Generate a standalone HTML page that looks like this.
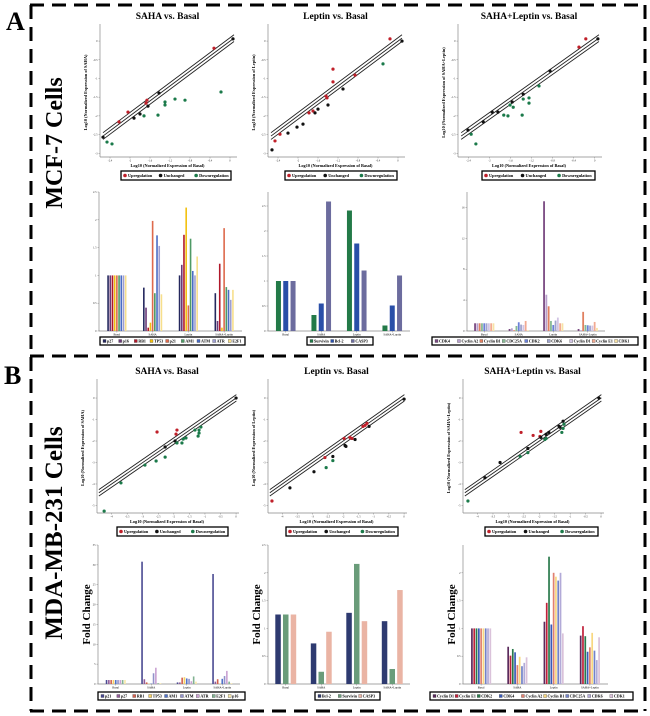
<!DOCTYPE html>
<html><head><meta charset="utf-8">
<style>
html,body{margin:0;padding:0;background:#fff;}
svg{display:block;font-family:"Liberation Serif",serif;}
</style></head>
<body>
<svg id="fig" width="650" height="716" viewBox="0 0 650 716" xmlns="http://www.w3.org/2000/svg">
<g stroke="#000" stroke-width="3" stroke-dasharray="14 8" fill="none">
<line x1="30" y1="5" x2="646" y2="5"/>
<line x1="30" y1="356" x2="646" y2="356"/>
<line x1="30" y1="711" x2="646" y2="711"/>
<line x1="31" y1="5" x2="31" y2="711"/>
<line x1="645" y1="5" x2="645" y2="711"/>
</g>
<text x="6" y="30" font-size="26" font-weight="bold">A</text>
<text x="4" y="384" font-size="26" font-weight="bold">B</text>
<text transform="translate(62,143) rotate(-90)" text-anchor="middle" font-size="24" font-weight="bold">MCF-7 Cells</text>
<text transform="translate(62,533) rotate(-90)" text-anchor="middle" font-size="25" font-weight="bold">MDA-MB-231 Cells</text>
</svg>
<script>
// ---------- scatter data ----------
const a1Up=[[-0.32,-0.19],[-1.66,-1.58],[-1.68,-1.66],[-2.04,-1.90],[-2.22,-2.16]];
const a1Un=[[0.06,0.06],[-1.42,-1.39],[-1.64,-1.74],[-1.80,-1.95],[-1.92,-2.06],[-2.54,-2.57]];
const a1Down=[[-0.18,-1.36],[-0.90,-1.58],[-1.10,-1.55],[-1.30,-1.63],[-1.30,-1.71],[-1.44,-1.98],[-1.72,-2.00],[-2.46,-2.70],[-2.36,-2.75]];
const a2Up=[[-0.16,0.06],[-1.30,-0.75],[-1.30,-1.09],[-0.86,-0.91],[-1.44,-1.47],[-1.42,-1.52],[-1.70,-1.87],[-1.78,-1.92],[-2.36,-2.49],[-2.46,-2.67]];
const a2Un=[[0.08,0.0],[-1.10,-1.28],[-1.40,-1.71],[-1.60,-1.82],[-1.66,-1.92],[-1.90,-2.22],[-2.02,-2.30],[-2.20,-2.46],[-2.52,-2.91]];
const a2Down=[[-0.30,-0.61]];
const a3Up=[[-0.17,0.06],[-0.30,-0.16]];
const a3Un=[[0.06,0.06],[-0.85,-0.80],[-1.36,-1.42],[-1.57,-1.63],[-1.84,-1.90],[-1.95,-1.90],[-2.12,-2.16],[-2.41,-2.38]];
const a3Down=[[-1.06,-1.20],[-1.25,-1.52],[-1.25,-1.66],[-1.36,-1.55],[-1.55,-1.77],[-1.61,-1.71],[-1.38,-1.98],[-1.65,-2.00],[-1.73,-1.98],[-2.35,-2.49],[-2.26,-2.75]];
const b1Up=[[-2.54,-1.58],[-1.90,-1.49],[-1.93,-1.68]];
const b1Un=[[0,0],[-1.96,-2.0],[-2.28,-2.28]];
const b1Down=[[-4.24,-5.26],[-3.70,-3.95],[-2.93,-3.12],[-2.57,-2.93],[-2.28,-2.75],[-1.90,-2.09],[-1.74,-2.09],[-1.70,-1.91],[-1.61,-1.86],[-1.32,-1.49],[-1.19,-1.49],[-1.19,-1.63],[-1.22,-1.77],[-1.13,-1.35]];
const b2Up=[[-4.34,-4.79],[-2.60,-2.77],[-1.97,-1.88],[-1.78,-1.83],[-1.71,-1.88],[-1.35,-1.32],[-1.28,-1.27],[-1.22,-1.18]];
const b2Un=[[0.0,-0.05],[-1.15,-1.32],[-1.61,-1.93],[-1.94,-2.21],[-1.91,-2.25],[-2.34,-2.72],[-2.96,-3.43],[-3.75,-4.18]];
const b2Down=[[-2.56,-3.24],[-2.34,-2.91]];
const b3Up=[[-2.59,-1.60],[-2.20,-1.74],[-1.95,-1.55],[-1.98,-1.79]];
const b3Un=[[-0.07,0.0],[-1.23,-1.08],[-1.36,-1.32],[-1.33,-1.36],[-1.69,-1.60],[-1.78,-1.69],[-1.95,-1.83],[-2.37,-2.35],[-3.27,-3.0],[-3.76,-3.71]];
const b3Down=[[-4.31,-4.79],[-2.62,-2.72],[-2.37,-2.54],[-1.78,-1.88],[-1.20,-1.22],[-1.23,-1.41],[-1.27,-1.60],[-1.82,-1.93]];
const aXTicks=[-2.4,-2.0,-1.6,-1.2,-0.8,-0.4,0];
const aYTicks=[-3.0,-2.5,-2.0,-1.5,-1.0,-0.5,0];
const bXTicks=[-4.0,-3.5,-3.0,-2.5,-2.0,-1.5,-1.0,-0.5,0];
const bYTicks=[-5.0,-4.0,-3.0,-2.0,-1.0,0];

// ---------- bar data ----------
const barCats=["Basal","SAHA","Leptin","SAHA+Leptin"];
const a1Names=["p27","p16","RB1","TP53","p21","AM1","ATM","ATR","E2F1"];
const a1Colors=["#25285e","#6b3a78","#b0182a","#f2c00f","#de6a4c","#4f9a66","#4a6cc4","#9e9ed0","#f7df8c"];
const a1Basal=[1,1,1,1,1,1,1,1,1];
const a1Saha=[0.78,0.42,0.06,0.15,1.98,0.68,1.72,1.53,0.66];
const a1Leptin=[1.0,1.19,1.73,2.22,0.46,1.66,1.08,1.0,1.34];
const a1Combo=[0.68,0.18,1.21,0.06,1.85,0.79,0.74,0.56,0.74];
const a1Ticks=[0,0.5,1.0,1.5,2.0,2.5];
const a2Names=["Survivin","Bcl-2","CASP3"];
const a2Colors=["#237a48","#2a4fa8","#6c6c9e"];
const a2Basal=[1,1,1];
const a2Saha=[0.32,0.55,2.59];
const a2Leptin=[2.41,1.75,1.21];
const a2Combo=[0.11,0.51,1.11];
const a2Ticks=[0,0.5,1.0,1.5,2.0,2.5];
const a3Names=["CDK4","Cyclin A2","Cyclin B1","CDC25A","CDK2","CDK6","Cyclin D1","Cyclin E1","CDK1"];
const a3Colors=["#7a4a82","#b8a0cc","#e08060","#86ba94","#6a80d8","#a0a4cc","#d2c4e4","#f2aa92","#f8e2a4"];
const a3Basal=[1,1,1,1,1,1,1,1,1];
const a3Saha=[0.26,0.35,0.1,0.65,1.13,0.83,0.78,1.3,0.1];
const a3Leptin=[16.8,4.7,3.2,1.3,0.78,1.35,1.74,1.0,1.0];
const a3Combo=[0.26,0.1,2.48,0.78,0.74,0.7,0.7,1.17,0.4];
const a3Ticks=[0,4,8,12,16];
const b1Names=["p21","p27","RB1","TP53","AM1","ATM","ATR","E2F1","p16"];
const b1Colors=["#4a4a92","#935c9a","#d2604e","#f6d062","#5072c8","#9292ca","#caa2d2","#82b292","#f8e8aa"];
const b1Basal=[1,1,1,1,1,1,1,1,1];
const b1Saha=[30.8,1.2,0.4,0.1,0.1,2.7,4.1,0.2,0.2];
const b1Leptin=[0.4,0.4,1.6,1.7,1.4,1.3,0.7,1.9,0.6];
const b1Combo=[27.7,0.6,1.2,0.1,1.3,2.0,3.3,0.6,0.2];
const b1Ticks=[0,5,10,15,20,25,30,35];
const b2Names=["Bcl-2","Survivin","CASP3"];
const b2Colors=["#2e3a70","#6a9c7a","#eab4a4"];
const b2Basal=[1.25,1.25,1.25];
const b2Saha=[0.73,0.22,0.94];
const b2Leptin=[1.28,2.16,1.13];
const b2Combo=[1.13,0.27,1.69];
const b2Ticks=[0,0.5,1.0,1.5,2.0,2.5];
const b3Names=["Cyclin D1","Cyclin E1","CDK2","CDK4","Cyclin A2","Cyclin B1","CDC25A","CDK6","CDK1"];
const b3Colors=["#5a2a5c","#c0203a","#2a7a4c","#3a5ab8","#e08070","#f8d880","#7282c8","#b2aad8","#dac2da"];
const b3Basal=[1,1,1,1,1,1,1,1,1];
const b3Saha=[0.67,0.51,0.63,0.57,0.34,0.49,0.32,0.38,0.48];
const b3Leptin=[1.12,1.46,2.29,1.07,2.0,1.93,1.86,2.0,0.91];
const b3Combo=[0.87,1.04,0.86,0.58,0.66,0.92,0.60,0.43,0.84];
const b3Ticks=[0,0.5,1.0,1.5,2.0];

const NS="http://www.w3.org/2000/svg";
const svg=document.getElementById('fig');
function mk(tag,attrs,parent){const e=document.createElementNS(NS,tag);for(const k in attrs)e.setAttribute(k,attrs[k]);(parent||svg).appendChild(e);return e;}
function txt(parent,x,y,s,size,extra){const t=mk('text',Object.assign({x:x,y:y,'font-size':size},extra||{}),parent);t.textContent=s;return t;}

function scatter(o){
  const g=mk('g',{});
  
  
  const sx=v=>o.x0+(v-o.xd[0])/(o.xd[1]-o.xd[0])*(o.x1-o.x0);
  const sy=v=>o.y1-(v-o.yd[0])/(o.yd[1]-o.yd[0])*(o.y1-o.y0);
  const t=txt(g,(o.x0+o.x1)/2,o.y0-9,o.title,9.5,{'text-anchor':'middle','font-weight':'bold'});
  
  
  mk('line',{x1:o.x0,y1:o.y0-4,x2:o.x0,y2:o.y1,stroke:'#888','stroke-width':0.7},g);
  mk('line',{x1:o.x0,y1:o.y1,x2:o.x1+2,y2:o.y1,stroke:'#888','stroke-width':0.7},g);
  o.xt.forEach(v=>{const x=sx(v);mk('line',{x1:x,y1:o.y1,x2:x,y2:o.y1+1.5,stroke:'#888','stroke-width':0.5},g);txt(g,x,o.y1+4.5,String(v),2.8,{'text-anchor':'middle',fill:'#333'});});
  o.yt.forEach(v=>{const y=sy(v);mk('line',{x1:o.x0-1.5,y1:y,x2:o.x0,y2:y,stroke:'#888','stroke-width':0.5},g);txt(g,o.x0-2.5,y+1,String(v),2.8,{'text-anchor':'end',fill:'#333'});});
  const xl=txt(g,(o.x0+o.x1)/2,o.y1+10,'Log10 (Normalized Expression of Basal)',4.3,{'text-anchor':'middle','font-weight':'bold'});
  
  
  const yl=txt(g,0,0,o.ylab,4.3,{'text-anchor':'middle','font-weight':'bold',transform:'translate('+(o.x0-13)+','+((o.y0+o.y1)/2)+') rotate(-90)'});
  
  
  const a=Math.max(o.xd[0],o.yd[0])+0.06, b=Math.min(o.xd[1],o.yd[1])-0.02;
  [-o.off,0,o.off].forEach(d=>{
    const ln=mk('line',{x1:sx(a),y1:sy(a+d),x2:sx(b),y2:sy(b+d),stroke:'#222','stroke-width':0.9},g);
    
    
  });
  const groups=[[o.up,'#c0202a','up-point'],[o.un,'#111','unchanged-point'],[o.down,'#1b7a4a','down-point']];
  groups.forEach(([pts,c,n])=>pts.forEach(p=>{
    const ci=mk('circle',{cx:sx(p[0]),cy:sy(p[1]),r:1.6,fill:c},g);
    
    
  }));
  const lx=o.lx, ly=o.y1+14, lw=o.lw;
  const lg=mk('g',{},g);
  
  
  mk('rect',{x:lx,y:ly,width:lw,height:9,fill:'#fff',stroke:'#000','stroke-width':1.3},lg);
  const labs=[['Upregulation','#c0202a'],['Unchanged','#111'],['Downregulation','#1b7a4a']];
  const step=lw/3;
  labs.forEach((l,i)=>{const x=lx+4+i*step*0.97;mk('circle',{cx:x,cy:ly+4.5,r:1.8,fill:l[1]},lg);txt(lg,x+3,ly+6,l[0],4.3,{'font-weight':'bold'});});
}

function bars(o){
  const g=mk('g',{});
  
  
  const sy=v=>o.y1-v/o.ymax*(o.y1-o.y0);
  mk('line',{x1:o.x0,y1:o.y0,x2:o.x0,y2:o.y1,stroke:'#888','stroke-width':0.7},g);
  mk('line',{x1:o.x0,y1:o.y1,x2:o.x1,y2:o.y1,stroke:'#888','stroke-width':0.7},g);
  o.ticks.forEach(v=>{const y=sy(v);mk('line',{x1:o.x0-1.5,y1:y,x2:o.x0,y2:y,stroke:'#888','stroke-width':0.5},g);txt(g,o.x0-2.5,y+1,String(v),2.8,{'text-anchor':'end',fill:'#333'});});
  if(o.fold){const f=txt(g,0,0,'Fold Change',11,{'text-anchor':'middle','font-weight':'bold',transform:'translate('+(o.x0-8)+','+((o.y0+o.y1)/2)+') rotate(-90)'});
    
    }
  const gw=(o.x1-o.x0)/barCats.length;
  const n=o.colors.length;
  barCats.forEach((c,ci)=>{
    const cx=o.x0+(ci+0.5)*gw;
    mk('line',{x1:cx,y1:o.y1,x2:cx,y2:o.y1+1.5,stroke:'#888','stroke-width':0.5},g);
    txt(g,cx,o.y1+4.5,c,3,{'text-anchor':'middle'});
    const vals=o.data[ci];
    const tot=n*o.bw+(n-1)*o.gap;
    vals.forEach((v,si)=>{
      const x=cx-tot/2+si*(o.bw+o.gap);
      const r=mk('rect',{x:x,y:sy(v),width:o.bw,height:o.y1-sy(v),fill:o.colors[si]},g);
      
      
    });
  });
  const lg=mk('g',{},g);
  
  
  const ly=o.ly;
  mk('rect',{x:o.lx,y:ly,width:o.lw,height:8,fill:'#fff',stroke:'#000','stroke-width':1.3},lg);
  const step=(o.lw-4)/n;
  o.names.forEach((nm,i)=>{const x=o.lx+3+i*step;mk('rect',{x:x,y:ly+2.5,width:3,height:3,fill:o.colors[i],stroke:'#333','stroke-width':0.3},lg);txt(lg,x+4,ly+5.6,nm,4,{'font-weight':'bold'});});
}

scatter({name:'scatter-mcf7-saha',title:'SAHA vs. Basal',ylab:'Log10 (Normalized Expression of SAHA)',x0:100,x1:235,y0:28,y1:157,xd:[-2.6,0.1],yd:[-3.1,0.35],xt:aXTicks,yt:aYTicks,off:0.09,up:a1Up,un:a1Un,down:a1Down,lx:121,lw:110});
scatter({name:'scatter-mcf7-leptin',title:'Leptin vs. Basal',ylab:'Log10 (Normalized Expression of Leptin)',x0:268,x1:403,y0:28,y1:157,xd:[-2.6,0.1],yd:[-3.1,0.35],xt:aXTicks,yt:aYTicks,off:0.09,up:a2Up,un:a2Un,down:a2Down,lx:285,lw:112});
scatter({name:'scatter-mcf7-saha-leptin',title:'SAHA+Leptin vs. Basal',ylab:'Log10 (Normalized Expression of SAHA+Leptin)',x0:458,x1:600,y0:28,y1:157,xd:[-2.6,0.1],yd:[-3.1,0.35],xt:aXTicks,yt:aYTicks,off:0.09,up:a3Up,un:a3Un,down:a3Down,lx:482,lw:113});
scatter({name:'scatter-mda-saha',title:'SAHA vs. Basal',ylab:'Log10 (Normalized Expression of SAHA)',x0:97,x1:237,y0:383,y1:513,xd:[-4.47,0.03],yd:[-5.35,0.7],xt:bXTicks,yt:bYTicks,off:0.15,up:b1Up,un:b1Un,down:b1Down,lx:117,lw:111});
scatter({name:'scatter-mda-leptin',title:'Leptin vs. Basal',ylab:'Log10 (Normalized Expression of Leptin)',x0:268,x1:405,y0:383,y1:513,xd:[-4.47,0.03],yd:[-5.35,0.7],xt:bXTicks,yt:bYTicks,off:0.15,up:b2Up,un:b2Un,down:b2Down,lx:286,lw:112});
scatter({name:'scatter-mda-saha-leptin',title:'SAHA+Leptin vs. Basal',ylab:'Log10 (Normalized Expression of SAHA+Leptin)',x0:463,x1:602,y0:383,y1:513,xd:[-4.47,0.03],yd:[-5.35,0.7],xt:bXTicks,yt:bYTicks,off:0.15,up:b3Up,un:b3Un,down:b3Down,lx:485,lw:113});

bars({name:'bars-mcf7-cell-cycle',x0:99,x1:242,y0:192,y1:331,ymax:2.5,ticks:a1Ticks,names:a1Names,colors:a1Colors,data:[a1Basal,a1Saha,a1Leptin,a1Combo],bw:1.6,gap:0.6,lx:100,lw:145,ly:337});
bars({name:'bars-mcf7-apoptosis',x0:268,x1:410,y0:192,y1:331,ymax:2.78,ticks:a2Ticks,names:a2Names,colors:a2Colors,data:[a2Basal,a2Saha,a2Leptin,a2Combo],bw:5,gap:2.3,lx:307,lw:66,ly:337});
bars({name:'bars-mcf7-cyclins',x0:467,x1:605,y0:192,y1:331,ymax:18,ticks:a3Ticks,names:a3Names,colors:a3Colors,data:[a3Basal,a3Saha,a3Leptin,a3Combo],bw:1.8,gap:0.5,lx:432,lw:206,ly:337});
bars({name:'bars-mda-cell-cycle',x0:98,x1:240,y0:545,y1:684,ymax:35,ticks:b1Ticks,names:b1Names,colors:b1Colors,data:[b1Basal,b1Saha,b1Leptin,b1Combo],bw:1.6,gap:0.7,lx:98,lw:147,ly:692,fold:true});
bars({name:'bars-mda-apoptosis',x0:268,x1:410,y0:545,y1:684,ymax:2.5,ticks:b2Ticks,names:b2Names,colors:b2Colors,data:[b2Basal,b2Saha,b2Leptin,b2Combo],bw:5.5,gap:2.2,lx:315,lw:65,ly:692,fold:true});
bars({name:'bars-mda-cyclins',x0:463,x1:608,y0:545,y1:684,ymax:2.5,ticks:b3Ticks,names:b3Names,colors:b3Colors,data:[b3Basal,b3Saha,b3Leptin,b3Combo],bw:1.7,gap:0.6,lx:430,lw:203,ly:692,fold:true});
</script>
</body></html>
